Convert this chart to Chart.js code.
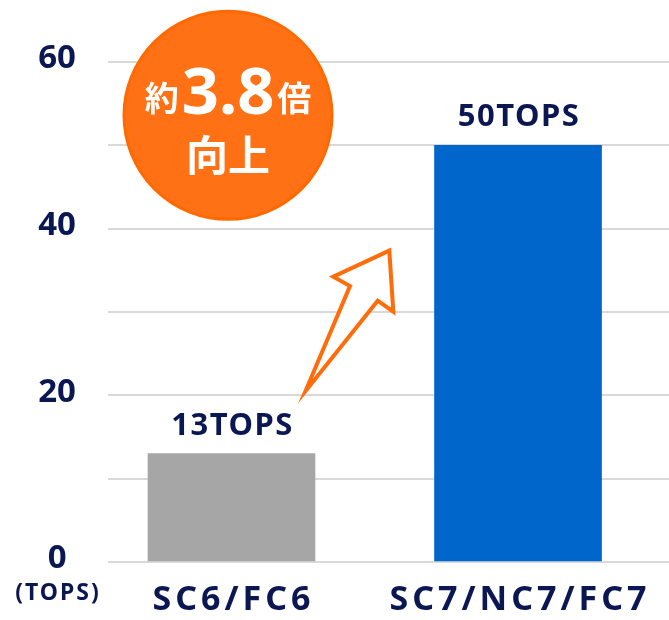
<!DOCTYPE html>
<html><head><meta charset="utf-8">
<script src="https://cdn.jsdelivr.net/npm/chart.js@4.4.1/dist/chart.umd.min.js"></script>
<style>html,body{margin:0;padding:0;background:#fff;}#wrap{width:669px;height:620px;}</style>
</head><body><div id="wrap"><canvas id="c" width="669" height="620"></canvas></div>
<script>
// ---- data ----
const categories = ['SC6/FC6', 'SC7/NC7/FC7'];
const tops = [13, 50];
const valueLabels = ['13TOPS', '50TOPS'];
const yTicks = [0, 20, 40, 60];
const barColors = ['#a6a6a6', '#0066cc'];
const unitLabel = '(TOPS)';
const badgeLine1 = ['約', '3.8', '倍'];
const badgeLine2 = '向上';
// annotation anchors in data space (x: category index, y: TOPS)
const badgeCenter = [0, 53.6];
const arrowPoints = [[0.258, 20.5], [0.4136, 33.12], [0.3553, 34.24], [0.5508, 37.36], [0.5647, 30.04], [0.5103, 31.36]];

const NAVY = '#0b1752';
const ORANGE = '#ff6c0a';
const LATIN = '"Noto Sans", "Open Sans", sans-serif';
const CJK = '"Noto Sans CJK JP", "Noto Sans", sans-serif';

const annotate = {
  id: 'annotate',
  afterDatasetsDraw(chart) {
    const ctx = chart.ctx, xs = chart.scales.x, ys = chart.scales.y;
    const meta = chart.getDatasetMeta(0);
    ctx.save();
    // value labels
    ctx.fillStyle = NAVY;
    ctx.font = 'bold 31px ' + LATIN;
    ctx.textAlign = 'center';
    ctx.textBaseline = 'alphabetic';
    ctx.letterSpacing = '1.5px';
    meta.data.forEach((el, i) => ctx.fillText(valueLabels[i], el.x + 1, el.y - 19));
    // category labels
    ctx.font = 'bold 34px ' + LATIN;
    ctx.letterSpacing = '4px';
    categories.forEach((c, i) => ctx.fillText(c, xs.getPixelForValue(i) + 2, chart.chartArea.bottom + 48));
    // unit label
    ctx.font = 'bold 23px ' + LATIN;
    ctx.letterSpacing = '2px';
    ctx.fillText(unitLabel, chart.chartArea.left - 50, chart.chartArea.bottom + 38);
    ctx.letterSpacing = '0px';
    // arrow
    ctx.beginPath();
    arrowPoints.forEach((p, i) => {
      const px = xs.getPixelForValue(p[0]), py = ys.getPixelForValue(p[1]);
      if (i === 0) ctx.moveTo(px, py); else ctx.lineTo(px, py);
    });
    ctx.closePath();
    ctx.fillStyle = '#ffffff';
    ctx.fill();
    ctx.lineWidth = 4;
    ctx.lineJoin = 'miter';
    ctx.strokeStyle = ORANGE;
    ctx.stroke();
    // badge circle
    const cx = xs.getPixelForValue(badgeCenter[0]) - 3.5, cy = ys.getPixelForValue(badgeCenter[1]);
    ctx.beginPath();
    ctx.arc(cx, cy, 104, 0, Math.PI * 2);
    ctx.fillStyle = '#ff7114';
    ctx.fill();
    ctx.lineWidth = 3;
    ctx.strokeStyle = '#ff6a00';
    ctx.stroke();
    // badge text
    ctx.fillStyle = '#ffffff';
    ctx.textAlign = 'left';
    const f1 = 'bold 34px ' + CJK, f2 = 'bold 65px ' + LATIN;
    ctx.font = f1; const w1 = ctx.measureText(badgeLine1[0]).width;
    ctx.font = f2; const w2 = ctx.measureText(badgeLine1[1]).width;
    ctx.font = f1; const w3 = ctx.measureText(badgeLine1[2]).width;
    const gap = 3;
    let x0 = cx - (w1 + w2 + w3 + 2 * gap) / 2;
    ctx.font = f1; ctx.fillText(badgeLine1[0], x0, cy - 4);
    ctx.font = f2; ctx.fillText(badgeLine1[1], x0 + w1 + gap, cy - 1);
    ctx.font = f1; ctx.fillText(badgeLine1[2], x0 + w1 + w2 + 2 * gap, cy - 4);
    ctx.textAlign = 'center';
    ctx.font = 'bold 42px ' + CJK;
    ctx.fillText(badgeLine2, cx, cy + 56);
    ctx.restore();
  }
};

function build() {
  new Chart(document.getElementById('c'), {
    type: 'bar',
    data: {
      datasets: [{
        data: categories.map((c, i) => ({ x: i, y: tops[i] })),
        backgroundColor: barColors,
        borderWidth: 0,
        barThickness: 167
      }]
    },
    options: {
      responsive: false,
      animation: false,
      events: [],
      layout: { padding: { top: 62, left: 0, right: 0, bottom: 0 } },
      plugins: { legend: { display: false }, tooltip: { enabled: false } },
      scales: {
        x: {
          type: 'linear', min: -0.4311, max: 1.527, offset: false,
          grid: { display: false }, border: { display: false },
          ticks: { display: false },
          afterFit(s) { s.height = 58; }
        },
        y: {
          type: 'linear', min: 0, max: 60,
          border: { display: false },
          grid: { color: '#d9d9d9', lineWidth: 2, drawTicks: false },
          ticks: {
            stepSize: 10, crossAlign: 'center', padding: 32, labelOffset: -3,
            color: NAVY, font: { family: LATIN, size: 33, weight: 'bold' },
            callback: v => yTicks.includes(v) ? String(v) : ''
          },
          afterFit(s) { s.width = 108; }
        }
      }
    },
    plugins: [annotate]
  });
}
const fontLoads = [
  'bold 30px "Noto Sans"', 'bold 34px "Noto Sans CJK JP"'
].map(f => document.fonts.load(f, '約倍向上3.8TOPS'));
Promise.race([Promise.all(fontLoads), new Promise(r => setTimeout(r, 1500))]).then(build, build);
</script>
</body></html>
